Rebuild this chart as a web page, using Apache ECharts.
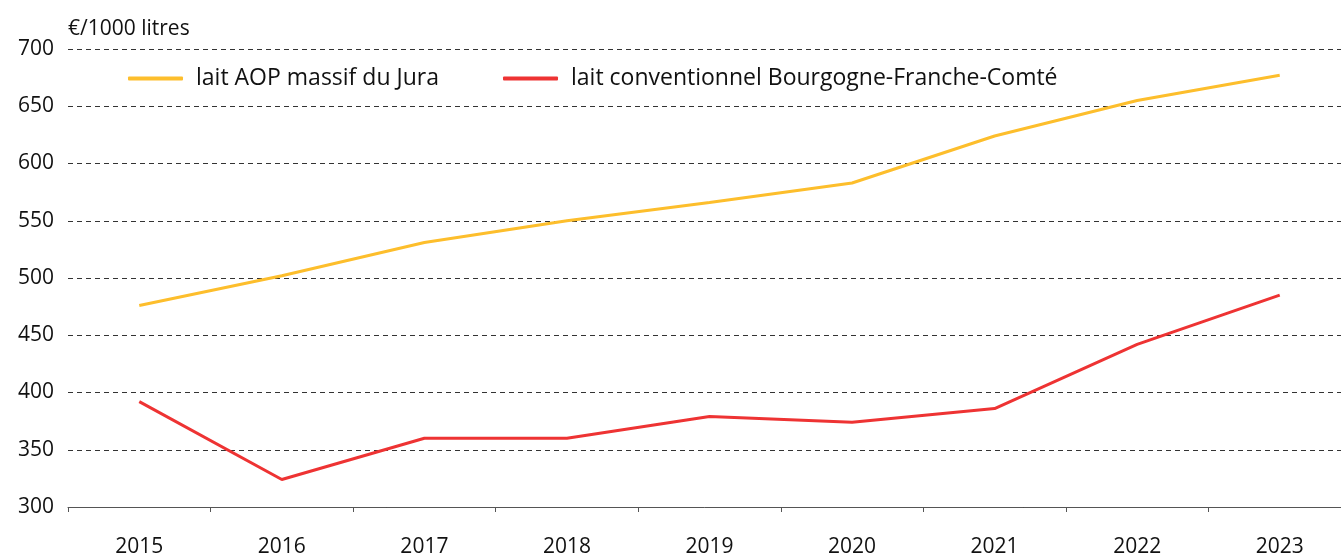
<!DOCTYPE html>
<html>
<head>
<meta charset="utf-8">
<script src="https://cdn.jsdelivr.net/npm/echarts@6/dist/echarts.min.js"></script>
<style>
  html, body { margin: 0; padding: 0; background: #fff; }
  #chart { width: 1341px; height: 557px; }
</style>
</head>
<body>
<div id="chart"></div>
<script>
// données
var years = ['2015', '2016', '2017', '2018', '2019', '2020', '2021', '2022', '2023'];
var laitAOP = [476, 502, 531, 550, 566, 583, 624, 655, 677];
var laitConv = [392, 324, 360, 360, 379, 374, 386, 442, 485];
var nomAOP = 'lait AOP massif du Jura';
var nomConv = 'lait conventionnel Bourgogne-Franche-Comté';

var fontFam = '"Open Sans", sans-serif';
var chart = echarts.init(document.getElementById('chart'));

function legendAt(left, name) {
    return {
        left: left,
        top: 62,
        itemWidth: 55,
        itemHeight: 4,
        icon: 'roundRect',
        textStyle: { fontSize: 23, color: '#111', fontFamily: fontFam, padding: [0, 0, 0, 8] },
        data: [name]
    };
}

chart.setOption({
    animation: false,
    textStyle: { fontFamily: fontFam },
    grid: { left: 68, right: -10, top: 49, bottom: 50, outerBoundsMode: 'none' },
    legend: [legendAt(123, nomAOP), legendAt(498, nomConv)],
    xAxis: {
        type: 'category',
        data: years,
        boundaryGap: true,
        axisLine: { lineStyle: { color: '#555', width: 1 } },
        axisTick: { show: true, length: 5, inside: false, lineStyle: { color: '#555' } },
        axisLabel: { color: '#111', fontSize: 21, margin: 30 }
    },
    yAxis: {
        type: 'value',
        min: 300,
        max: 700,
        interval: 50,
        name: '€/1000 litres',
        nameLocation: 'end',
        nameGap: 9,
        nameTextStyle: { color: '#111', fontSize: 21, align: 'left' },
        axisLine: { show: false },
        axisTick: { show: false },
        axisLabel: { color: '#111', fontSize: 21, margin: 14 },
        splitLine: { lineStyle: { color: '#333', type: [5, 4], width: 1 } }
    },
    series: [
        {
            name: nomAOP,
            type: 'line',
            data: laitAOP,
            symbol: 'none',
            color: '#FDBE2C',
            lineStyle: { width: 3, color: '#FDBE2C' }
        },
        {
            name: nomConv,
            type: 'line',
            data: laitConv,
            symbol: 'none',
            color: '#EE3333',
            lineStyle: { width: 3, color: '#EE3333' }
        }
    ]
});
</script>
</body>
</html>
